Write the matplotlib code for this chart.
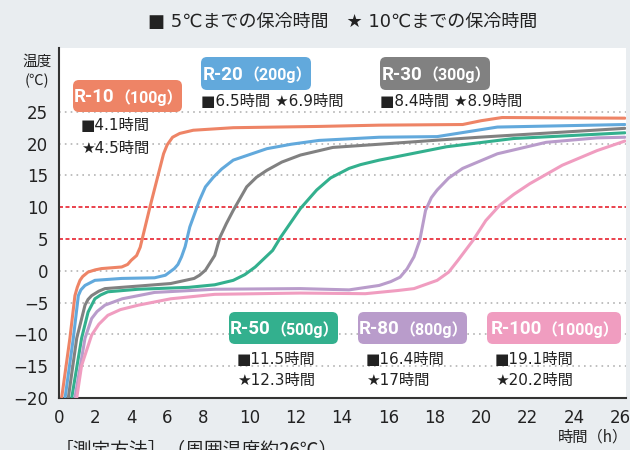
import numpy as np
import matplotlib
matplotlib.use("Agg")
import matplotlib.pyplot as plt
from matplotlib.patches import FancyBboxPatch

plt.rcParams['font.family'] = ['DejaVu Sans', 'Noto Sans CJK JP']

# readings: time (h) / temperature (C)
r10_h = [0.13, 0.59, 0.87, 1.0, 1.15, 1.3, 1.6, 2.0, 2.35, 3.47, 3.8, 4.0, 4.3, 4.5, 5.04, 5.8, 6.0, 6.3, 6.7, 7.45, 9.3, 13.0, 15.6, 19.2, 20.0, 20.9, 26.2]
r10_t = [-20, -10.6, -3.9, -2.6, -1.5, -0.9, -0.2, 0.15, 0.35, 0.6, 1.0, 1.65, 2.4, 3.7, 10, 18.4, 19.8, 21, 21.6, 22.1, 22.5, 22.7, 22.9, 23.0, 23.6, 24.1, 24.0]

r20_h = [0.32, 0.78, 1.06, 1.2, 1.43, 1.98, 3.47, 5.3, 5.9, 6.4, 6.6, 6.8, 7.0, 7.26, 7.8, 8.1, 8.44, 8.8, 9.3, 10.75, 11.8, 13.0, 15.6, 18.1, 20.7, 26.2]
r20_t = [-20, -10.6, -3.9, -3.0, -2.3, -1.5, -1.2, -1.1, -0.7, 0.35, 1.0, 2.2, 3.8, 6.9, 11.1, 13.2, 14.7, 16.0, 17.4, 19.2, 19.9, 20.5, 21.0, 21.1, 22.6, 23.0]

r30_h = [0.5, 0.97, 1.43, 1.6, 1.8, 2.2, 2.54, 4.4, 6.2, 7.5, 7.8, 8.1, 8.5, 8.73, 9.0, 9.3, 9.88, 10.3, 10.75, 11.4, 12.2, 13.6, 15.6, 19.9, 26.2]
r30_t = [-20, -10.6, -5.4, -4.5, -3.9, -3.2, -2.8, -2.4, -2.0, -1.2, -0.7, 0.1, 2.4, 5.3, 7.4, 9.5, 13.2, 14.7, 15.8, 17.1, 18.2, 19.4, 19.9, 21.0, 22.4]

r50_h = [0.69, 1.24, 1.6, 1.98, 2.3, 2.7, 4.4, 7.2, 8.5, 9.3, 9.8, 10.25, 11.0, 11.35, 12.2, 12.9, 13.5, 14.3, 14.8, 15.6, 18.5, 21.4, 26.2]
r50_t = [-20, -10.6, -6.5, -4.4, -3.8, -3.3, -2.9, -2.6, -2.2, -1.5, -0.6, 0.6, 3.2, 5.3, 9.8, 12.7, 14.6, 16.1, 16.7, 17.4, 19.5, 20.8, 21.7]

r80_h = [0.87, 1.43, 1.8, 2.1, 2.54, 3.5, 5.3, 8.5, 12.2, 14.3, 15.6, 16.1, 16.5, 16.8, 17.1, 17.35, 17.6, 17.85, 18.1, 18.6, 19.2, 20.7, 22.8, 25.0, 26.2]
r80_t = [-20, -10.6, -7.5, -6.4, -5.4, -4.4, -3.4, -2.9, -2.8, -3.0, -2.3, -1.7, -1.0, 0.3, 2.2, 4.8, 9.5, 11.5, 12.7, 14.6, 16.1, 18.4, 20.2, 20.9, 21.0]

r100_h = [0.97, 1.24, 1.8, 2.2, 2.7, 3.4, 4.4, 6.2, 8.5, 12.2, 15.0, 16.4, 17.1, 18.1, 18.6, 19.0, 19.65, 20.2, 20.8, 21.4, 22.1, 23.5, 25.0, 26.2]
r100_t = [-20, -14.9, -10.1, -8.4, -7.0, -6.1, -5.4, -4.4, -3.7, -3.5, -3.6, -3.1, -2.8, -1.5, -0.2, 1.65, 4.8, 7.9, 10.3, 12.0, 13.7, 16.6, 18.9, 20.4]

names = ["R-10", "R-20", "R-30", "R-50", "R-80", "R-100"]
weights = ["（100g）", "（200g）", "（300g）", "（500g）", "（800g）", "（1000g）"]
hold5 = ["4.1", "6.5", "8.4", "11.5", "16.4", "19.1"]
hold10 = ["4.5", "6.9", "8.9", "12.3", "17", "20.2"]
colors = ["#ee8466", "#62a9dc", "#818181", "#33b08e", "#b99ccb", "#f09dc0"]

x_ticks = list(range(0, 28, 2))
y_ticks = list(range(-20, 30, 5))

# x axis is stretched after 8 h in the original
K = 1.289
def fwd(x):
    x = np.asarray(x, float)
    return np.where(x <= 8, x, 8 + (x - 8) * K)
def inv(x):
    x = np.asarray(x, float)
    return np.where(x <= 8, x, 8 + (x - 8) / K)

fig = plt.figure(figsize=(6.3, 4.5), dpi=100, facecolor='#e9edf0')
ax = fig.add_axes([59.3/630, 1-398/450, (626-59.3)/630, (398-48.2)/450])
ax.set_xscale('function', functions=(fwd, inv))
ax.set_xlim(0, 26.25)
ax.set_ylim(-20, 35)

for y in [25, 20, 15, 0, -5, -10, -15]:
    ax.axhline(y, color='#b4b4b4', lw=1.2, ls=(0, (1, 2.5)), zorder=1)
for y in [10, 5]:
    ax.axhline(y, color='#e8333f', lw=1.3, ls=(0, (2.2, 1.4)), zorder=1)

series = [(r10_h, r10_t), (r20_h, r20_t), (r30_h, r30_t),
          (r50_h, r50_t), (r80_h, r80_t), (r100_h, r100_t)]
for (h, t), c in zip(series, colors):
    ax.plot(h, t, color=c, lw=2.2, solid_capstyle='round', solid_joinstyle='round', zorder=3)

ax.set_xticks(x_ticks)
ax.set_yticks(y_ticks)
ax.tick_params(length=0, labelsize=12, colors='#222222')
ax.tick_params(axis='y', pad=8)
ax.tick_params(axis='x', pad=8)
for s in ['top', 'right']:
    ax.spines[s].set_visible(False)
for s in ['left', 'bottom']:
    ax.spines[s].set_color('#333333')
    ax.spines[s].set_linewidth(1.5)

renderer = fig.canvas.get_renderer()

def tag(x0, x1, y0, y1, color, main, sub):
    # box in pixel units of the 630x450 picture
    box = FancyBboxPatch((x0/100, (450-y1)/100), (x1-x0)/100, (y1-y0)/100,
                         boxstyle='round,pad=0,rounding_size=0.06',
                         transform=fig.dpi_scale_trans, fc=color, ec='none', zorder=5)
    fig.add_artist(box)
    fam = ['Roboto', 'Noto Sans CJK JP']
    t1 = fig.text(0, 0, main, fontsize=13.5, fontweight='bold', color='white', family=fam,
                  transform=fig.dpi_scale_trans, va='baseline', ha='left', zorder=6)
    t2 = fig.text(0, 0, sub, fontsize=11.5, fontweight='bold', color='white', family=fam,
                  transform=fig.dpi_scale_trans, va='baseline', ha='left', zorder=6)
    w1 = t1.get_window_extent(renderer).width
    w2 = t2.get_window_extent(renderer).width
    left = (x0 + x1) / 2 - (w1 + w2) / 2 + 1
    base = (450 - ((y0 + y1) / 2 + 6.5)) / 100
    t1.set_position((left/100, base))
    t2.set_position(((left + w1)/100, base))

def note(x, y, s):
    fig.text(x/630, 1-y/450, s, fontsize=11, color='#222222', va='center', ha='left')

boxes = [(73, 182, 80, 112), (201, 311, 57, 90), (380, 490, 57, 90),
         (229, 338, 312, 344), (358, 467, 312, 344), (487, 621, 312, 344)]
for i, (x0, x1, y0, y1) in enumerate(boxes):
    tag(x0, x1, y0, y1, colors[i], names[i], weights[i])

note(81, 126, "■" + hold5[0] + "時間")
note(81, 148, "★" + hold10[0] + "時間")
note(201, 101, "■" + hold5[1] + "時間 ★" + hold10[1] + "時間")
note(380, 101, "■" + hold5[2] + "時間 ★" + hold10[2] + "時間")
for i, x in zip([3, 4, 5], [237, 366, 495]):
    note(x, 359, "■" + hold5[i] + "時間")
    note(x, 380, "★" + hold10[i] + "時間")

fig.text(343/630, 1-22/450, "■ 5℃までの保冷時間　★ 10℃までの保冷時間",
         fontsize=13, color='#222222', ha='center', va='center')
fig.text(37/630, 1-62/450, "温度", fontsize=10.5, color='#222222', ha='center', va='center',
         family=['Noto Sans CJK JP'])
fig.text(37/630, 1-81/450, "(℃)", fontsize=10.5, color='#222222', ha='center', va='center',
         family=['Noto Sans CJK JP'])
fig.text(628/630, 1-437/450, "時間（h）", fontsize=11, color='#222222', ha='right', va='center',
         family=['Noto Sans CJK JP'])
fig.text(55/630, 1-439/450, "［測定方法］（周囲温度約26℃）", fontsize=13.5, color='#222222',
         ha='left', va='top', family=['Noto Sans CJK JP'])

fig.savefig('out.png', dpi=100, facecolor=fig.get_facecolor())
